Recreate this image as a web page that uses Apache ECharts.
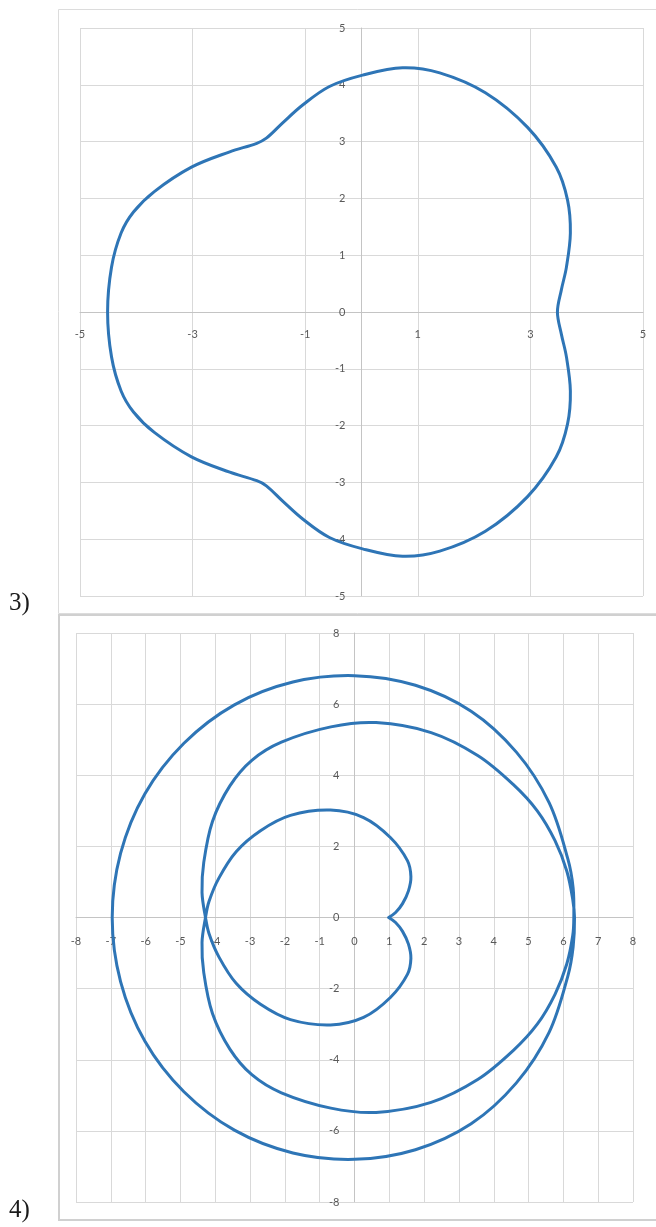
<!DOCTYPE html>
<html>
<head>
<meta charset="utf-8">
<script src="https://cdn.jsdelivr.net/npm/echarts@6/dist/echarts.min.js"></script>
<style>
  html, body { margin: 0; padding: 0; background: #fff; }
  #main { width: 656px; height: 1227px; }
</style>
</head>
<body>
<div id="main"></div>
<script>
// chart 3) closed curve (counter-clockwise from the right dent)
var curve3X = [3.48, 3.55, 3.64, 3.71, 3.66, 3.46, 2.95, 2.20, 1.39, 0.73, 0.02, -0.57, -1.05, -1.40, -1.69, -1.86, -2.34, -3.02, -3.68, -4.05, -4.27, -4.44, -4.51,
               -4.44, -4.27, -4.05, -3.68, -3.02, -2.34, -1.86, -1.69, -1.40, -1.05, -0.57, 0.02, 0.73, 1.39, 2.20, 2.95, 3.46, 3.66, 3.71, 3.64, 3.55];
var curve3Y = [0, 0.39, 0.79, 1.39, 1.97, 2.55, 3.25, 3.86, 4.21, 4.30, 4.17, 3.97, 3.64, 3.33, 3.06, 2.97, 2.82, 2.55, 2.12, 1.76, 1.39, 0.79, 0,
               -0.79, -1.39, -1.76, -2.12, -2.55, -2.82, -2.97, -3.06, -3.33, -3.64, -3.97, -4.17, -4.30, -4.21, -3.86, -3.25, -2.55, -1.97, -1.39, -0.79, -0.39];

// chart 4) one path: inner lobe up, middle ring down, outer ring, middle ring up, inner lobe down
var curve4X = [0.98, 1.18, 1.38, 1.55, 1.62, 1.52, 1.03, 0.26, -0.69, -1.84, -2.70, -3.40, -3.90, -4.18, -4.28,
               -4.38, -4.33, -4.08, -3.58, -2.95, -2.10, -0.68, 0.62, 2.20, 3.55, 4.55, 5.25, 5.76, 6.10, 6.27, 6.30,
               6.28, 6.13, 5.59, 4.65, 3.35, 1.75, 0.00, -1.77, -3.45, -4.90, -6.02, -6.72, -6.96,
               -6.72, -6.02, -4.90, -3.45, -1.77, 0.00, 1.75, 3.35, 4.65, 5.59, 6.13, 6.28, 6.32,
               6.27, 6.10, 5.76, 5.25, 4.55, 3.55, 2.20, 0.62, -0.68, -2.10, -2.95, -3.58, -4.08, -4.33, -4.38, -4.28,
               -4.18, -3.90, -3.40, -2.70, -1.84, -0.69, 0.26, 1.03, 1.52, 1.62, 1.55, 1.38, 1.18, 0.98];
var curve4Y = [0, 0.14, 0.39, 0.75, 1.15, 1.60, 2.25, 2.81, 3.02, 2.87, 2.44, 1.85, 1.10, 0.45, 0,
               -0.70, -1.55, -2.70, -3.70, -4.42, -4.93, -5.36, -5.48, -5.20, -4.55, -3.75, -3.00, -2.16, -1.30, -0.50, 0,
               0.83, 1.64, 3.23, 4.65, 5.80, 6.53, 6.80, 6.62, 5.98, 4.90, 3.48, 1.80, 0,
               -1.80, -3.48, -4.90, -5.98, -6.62, -6.80, -6.53, -5.80, -4.65, -3.23, -1.64, -0.83, 0,
               0.50, 1.30, 2.16, 3.00, 3.75, 4.55, 5.20, 5.48, 5.36, 4.93, 4.42, 3.70, 2.70, 1.55, 0.70, 0,
               -0.45, -1.10, -1.85, -2.44, -2.87, -3.02, -2.81, -2.25, -1.60, -1.15, -0.75, -0.39, -0.14, 0];

// axis ranges and steps: [min, max, step]
var axis3X = [-5, 5, 2];
var axis3Y = [-5, 5, 1];
var axis4X = [-8, 8, 1];
var axis4Y = [-8, 8, 2];

var panelLabels = ['3)', '4)'];

function pairs(xs, ys) {
    var out = [];
    for (var i = 0; i < xs.length; i++) {
        out.push([xs[i], ys[i]]);
    }
    return out;
}

var gridColor = '#d9d9d9';
var axisColor = '#c4c4c4';
var labelColor = '#595959';
var lineColor = '#2e75b6';

// plot boxes in px
var box3 = { left: 80, top: 28, width: 563, height: 568 };
var box4 = { left: 76, top: 633, width: 557, height: 569 };

// axes cross at 0: shift the axis from the box edge to the zero line
function zeroOffset(range, size) {
    return -size * (0 - range[0]) / (range[1] - range[0]);
}

function makeAxis(range, idx, pos, offset, margin) {
    return {
        type: 'value',
        gridIndex: idx,
        position: pos,
        offset: offset,
        min: range[0],
        max: range[1],
        interval: range[2],
        axisLine: { onZero: false, lineStyle: { color: axisColor, width: 1 } },
        axisTick: { show: false },
        axisLabel: {
            color: labelColor,
            fontFamily: 'Lato',
            fontSize: 11,
            margin: margin,
            showMinLabel: true,
            showMaxLabel: true
        },
        splitLine: { show: true, lineStyle: { color: gridColor, width: 1 } }
    };
}

// smooth curve through the read points, placed with the axes' own scales
function curveSeries(xs, ys, idx, closed) {
    return {
        type: 'custom',
        coordinateSystem: 'cartesian2d',
        xAxisIndex: idx,
        yAxisIndex: idx,
        data: pairs(xs, ys),
        encode: { x: 0, y: 1 },
        silent: true,
        renderItem: function (params, api) {
            if (params.dataIndex !== 0) {
                return null;
            }
            var pts = [];
            for (var i = 0; i < xs.length; i++) {
                pts.push(api.coord([xs[i], ys[i]]));
            }
            return {
                type: closed ? 'polygon' : 'polyline',
                shape: { points: pts, smooth: 0.35 },
                style: { fill: 'none', stroke: lineColor, lineWidth: 3, lineJoin: 'round', lineCap: 'round' }
            };
        }
    };
}

var myChart = echarts.init(document.getElementById('main'), null, { renderer: 'canvas' });
var option = {
    animation: false,
    backgroundColor: '#ffffff',
    grid: [box3, box4],
    xAxis: [
        makeAxis(axis3X, 0, 'bottom', zeroOffset(axis3Y, box3.height), 17),
        makeAxis(axis4X, 1, 'bottom', zeroOffset(axis4Y, box4.height), 18)
    ],
    yAxis: [
        makeAxis(axis3Y, 0, 'left', zeroOffset(axis3X, box3.width), 16),
        makeAxis(axis4Y, 1, 'left', zeroOffset(axis4X, box4.width), 15)
    ],
    graphic: [
        { type: 'rect', shape: { x: 58.5, y: 9.5, width: 640, height: 604 }, style: { fill: 'none', stroke: '#dcdcdc', lineWidth: 1 }, silent: true },
        { type: 'rect', shape: { x: 59, y: 615, width: 640, height: 605 }, style: { fill: 'none', stroke: '#d0d0d0', lineWidth: 2 }, silent: true },
        { type: 'text', x: 9, y: 591, style: { text: panelLabels[0], font: '25px "Liberation Serif"', fill: '#1a1a1a' }, silent: true },
        { type: 'text', x: 9, y: 1198, style: { text: panelLabels[1], font: '25px "Liberation Serif"', fill: '#1a1a1a' }, silent: true }
    ],
    series: [
        curveSeries(curve3X, curve3Y, 0, true),
        curveSeries(curve4X, curve4Y, 1, false)
    ]
};
myChart.setOption(option);
</script>
</body>
</html>
